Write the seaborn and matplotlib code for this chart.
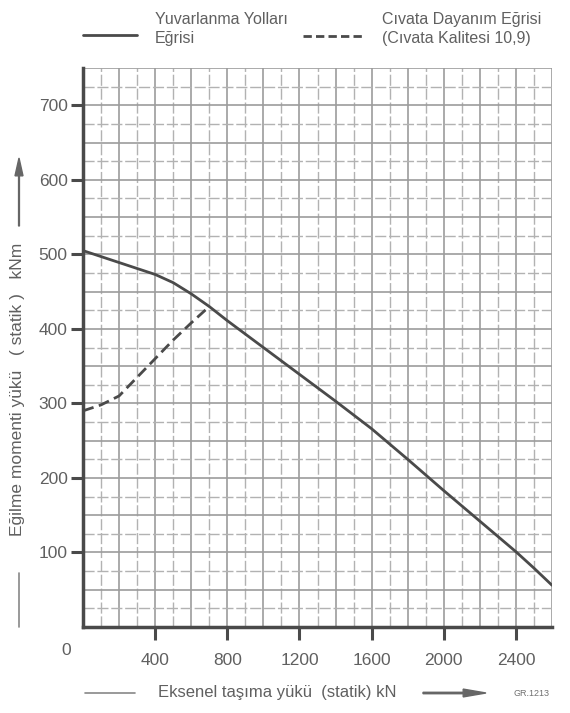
import numpy as np
import pandas as pd
import seaborn as sns
import matplotlib.pyplot as plt
from matplotlib.lines import Line2D
from matplotlib.patches import FancyArrow

# rolling track curve (solid)
track_x = [0, 100, 200, 300, 400, 500, 600, 700, 800, 1000, 1200, 1400,
           1600, 1800, 2000, 2200, 2400, 2500, 2600]
track_y = [505, 497, 489, 481, 473, 462, 447, 430, 411, 375, 339, 303,
           266, 225, 183, 142, 101, 79, 56]

# bolt strength curve (dashed)
bolt_x = [0, 100, 200, 300, 400, 500, 600, 700]
bolt_y = [290, 298, 310, 335, 360, 385, 408, 430]

x_ticks = [400, 800, 1200, 1600, 2000, 2400]
y_ticks = [100, 200, 300, 400, 500, 600, 700]

track = pd.DataFrame({"x": track_x, "y": track_y})
bolt = pd.DataFrame({"x": bolt_x, "y": bolt_y})

sns.set_style("white")
plt.rcParams['font.family'] = ['Liberation Sans', 'DejaVu Sans']

W, H = 570, 713
fig = plt.figure(figsize=(W / 100, H / 100), dpi=100)
ax = fig.add_axes([83 / W, 1 - 627 / H, (552 - 83) / W, (627 - 68) / H])

line_c = "#4a4a4a"
grid_c = "#9c9c9c"
grid_d = "#b2b2b2"
text_c = "#606060"

# grid: solid on every 200 kN / 50 kNm, dashed in between
for gx in range(100, 2601, 100):
    if gx % 200 == 0:
        ax.axvline(gx, color=grid_c, lw=1.2, zorder=0)
    else:
        ax.axvline(gx, color=grid_d, lw=1.0, ls=(0, (8, 2)), zorder=0)
for gy in range(25, 751, 25):
    if gy % 50 == 0:
        ax.axhline(gy, color=grid_c, lw=1.2, zorder=0)
    else:
        ax.axhline(gy, color=grid_d, lw=1.0, ls=(0, (8, 2)), zorder=0)

sns.lineplot(data=track, x="x", y="y", ax=ax, color=line_c, lw=2.0, zorder=3)
sns.lineplot(data=bolt, x="x", y="y", ax=ax, color=line_c, lw=2.0, zorder=3,
             dashes=False, linestyle=(0, (4, 2)))

ax.set_xlim(0, 2600)
ax.set_ylim(0, 750)
ax.set_xticks(x_ticks)
ax.set_yticks(y_ticks)
ax.set_xlabel("")
ax.set_ylabel("")
ax.tick_params(axis="both", direction="out", length=9, width=2.2, color=line_c,
               labelcolor=text_c, labelsize=12.5, pad=10, bottom=True, left=True)
ax.tick_params(axis="y", pad=2)

for s in ["top", "right"]:
    ax.spines[s].set_visible(False)
for s in ["left", "bottom"]:
    ax.spines[s].set_color(line_c)
    ax.spines[s].set_linewidth(2.5)

ax.text(-94, -31, "0", color=text_c, fontsize=12.5, ha="center", va="center", clip_on=False)

# legend drawn at top
def fx(px):
    return px / W

def fy(py):
    return 1 - py / H

fig.add_artist(Line2D([fx(83), fx(137)], [fy(35), fy(35)], color=line_c, lw=2.0))
fig.text(fx(155), fy(29), "Yuvarlanma Yolları\nEğrisi", color=text_c, fontsize=11.5,
         va="center", ha="left", linespacing=1.3)
fig.add_artist(Line2D([fx(303), fx(365)], [fy(36), fy(36)], color=line_c, lw=2.0,
                      linestyle=(0, (3, 1.5))))
fig.text(fx(382), fy(29), "Cıvata Dayanım Eğrisi\n(Cıvata Kalitesi 10,9)", color=text_c,
         fontsize=11.5, va="center", ha="left", linespacing=1.3)

# axis titles with arrows
fig.text(fx(18), fy(389), "Eğilme momenti yükü   ( statik )   kNm", rotation=90,
         color=text_c, fontsize=12.5, ha="center", va="center")
fig.add_artist(Line2D([fx(19), fx(19)], [fy(573), fy(627)], color="#888888", lw=1.2))
fig.add_artist(FancyArrow(fx(19), fy(226), 0, fy(158) - fy(226), width=0.0015,
                          head_width=0.014, head_length=0.025, length_includes_head=True,
                          color="#666666", transform=fig.transFigure))

fig.text(fx(158), fy(692), "Eksenel taşıma yükü  (statik) kN", color=text_c,
         fontsize=12, ha="left", va="center")
fig.add_artist(Line2D([fx(85), fx(135)], [fy(693), fy(693)], color="#888888", lw=1.2))
fig.add_artist(FancyArrow(fx(423), fy(693), fx(486) - fx(423), 0, width=0.002,
                          head_width=0.011, head_length=0.04, length_includes_head=True,
                          color="#666666", transform=fig.transFigure))
fig.text(fx(513), fy(693), "GR.1213", color="#707070", fontsize=6.5, ha="left", va="center")

fig.savefig("out.png", dpi=100)
